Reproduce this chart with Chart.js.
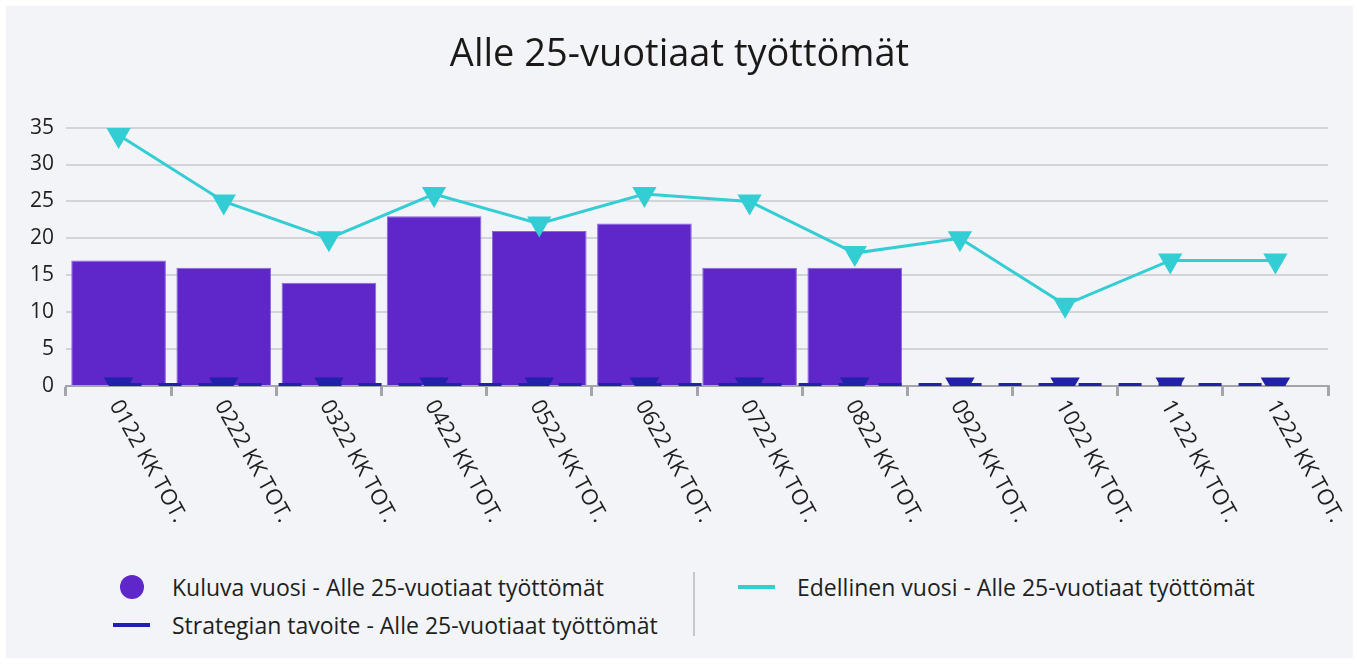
<!DOCTYPE html>
<html lang="fi">
<head>
  <meta charset="UTF-8">
  <title>Alle 25-vuotiaat työttömät</title>
  <script src="https://cdn.jsdelivr.net/npm/chart.js@4.4.1/dist/chart.umd.min.js"></script>
  <style>
    body {
      margin: 0;
      background: #fff;
      font-family: 'Open Sans', sans-serif;
      color: #201f1e;
    }

    .panel {
      position: absolute;
      left: 6px;
      top: 6px;
      width: 1347px;
      height: 652px;
      background: #f3f4f8;
    }

    canvas {
      position: absolute;
      left: 0;
      top: 0;
    }

    .legend-item {
      position: absolute;
      font-size: 23px;
      line-height: 28px;
      white-space: nowrap;
    }

    .swatch {
      position: absolute;
    }

    .divider {
      position: absolute;
      left: 687px;
      top: 566px;
      width: 2px;
      height: 64px;
      background: #c8c8cc;
    }
  </style>
</head>
<body>
<div class="panel" id="panel">
  <canvas id="chart" width="1347" height="545"></canvas>
  <div class="divider"></div>
</div>

<script>
  // data
  const categories = ["0122 KK TOT.", "0222 KK TOT.", "0322 KK TOT.", "0422 KK TOT.", "0522 KK TOT.", "0622 KK TOT.",
                      "0722 KK TOT.", "0822 KK TOT.", "0922 KK TOT.", "1022 KK TOT.", "1122 KK TOT.", "1222 KK TOT."];
  const currentYear = [17, 16, 14, 23, 21, 22, 16, 16, null, null, null, null];
  const previousYear = [34, 25, 20, 26, 22, 26, 25, 18, 20, 11, 17, 17];
  const strategyTarget = [0, 0, 0, 0, 0, 0, 0, 0, 0, 0, 0, 0];
  const yMax = 35;
  const yStep = 5;

  const seriesNames = [
    "Kuluva vuosi - Alle 25-vuotiaat työttömät",
    "Edellinen vuosi - Alle 25-vuotiaat työttömät",
    "Strategian tavoite - Alle 25-vuotiaat työttömät"
  ];
  const colors = { current: "#5f27c9", previous: "#33cdd4", target: "#2121a9" };

  // x labels run down to the right, which Chart.js can't rotate to by itself
  const slantedLabels = {
    id: 'slantedLabels',
    afterDraw(chart) {
      const xs = chart.scales.x;
      const ctx = chart.ctx;
      ctx.save();
      ctx.font = "22px 'Open Sans'";
      ctx.fillStyle = "#201f1e";
      ctx.textAlign = 'left';
      ctx.textBaseline = 'middle';
      categories.forEach((label, i) => {
        const x = xs.getPixelForValue(i);
        ctx.save();
        ctx.translate(x - 4, xs.top + 16);
        ctx.rotate(61 * Math.PI / 180);
        ctx.fillText(label, 0, 0);
        ctx.restore();
      });
      ctx.restore();
    }
  };

  new Chart(document.getElementById("chart"), {
    type: 'bar',
    data: {
      labels: categories,
      datasets: [
        {
          label: seriesNames[1],
          type: 'line',
          data: previousYear,
          borderColor: colors.previous,
          backgroundColor: colors.previous,
          borderWidth: 3,
          pointStyle: 'triangle',
          rotation: 180,
          pointRadius: 11,
          pointHoverRadius: 11,
          tension: 0,
          order: 1
        },
        {
          label: seriesNames[2],
          type: 'line',
          data: strategyTarget,
          borderColor: colors.target,
          backgroundColor: colors.target,
          borderWidth: 6,
          borderDash: [23, 17],
          pointStyle: 'triangle',
          rotation: 180,
          pointRadius: 11,
          pointHoverRadius: 11,
          clip: { left: 30, right: 30, top: 0, bottom: 0 },
          order: 2
        },
        {
          label: seriesNames[0],
          data: currentYear,
          backgroundColor: colors.current,
          borderColor: "#8a66d8",
          borderWidth: 1,
          barPercentage: 0.9,
          categoryPercentage: 1.0,
          order: 3
        }
      ]
    },
    options: {
      responsive: false,
      devicePixelRatio: 1,
      animation: false,
      layout: { padding: { left: 25, right: 25, top: 0, bottom: 0 } },
      plugins: {
        legend: { display: false },
        tooltip: { enabled: false },
        title: {
          display: true,
          text: "Alle 25-vuotiaat työttömät",
          color: "#1a1918",
          font: { family: "'Open Sans'", size: 38, weight: 'normal', lineHeight: 1.2 },
          padding: { top: 26, bottom: 50 }
        }
      },
      scales: {
        x: {
          afterFit: (scale) => { scale.height = 165; },
          ticks: { display: false },
          grid: {
            offset: true,
            drawOnChartArea: false,
            drawTicks: true,
            tickLength: 10,
            color: "#a3a5ab",
            lineWidth: 3
          },
          border: { display: true, color: "#a3a5ab", width: 2 }
        },
        y: {
          min: 0,
          max: yMax,
          afterFit: (scale) => { scale.width = 35; },
          ticks: {
            stepSize: yStep,
            padding: 12,
            color: "#201f1e",
            font: { family: "'Open Sans'", size: 21 }
          },
          grid: { color: "#d3d4da", lineWidth: 2, drawTicks: false },
          border: { display: false }
        }
      }
    },
    plugins: [slantedLabels]
  });

  // legend as html, laid out in two columns like the original
  const panel = document.getElementById("panel");
  const legendItems = [
    { name: seriesNames[0], color: colors.current, kind: 'dot', x: 166, y: 567, sx: 114, sy: 569 },
    { name: seriesNames[2], color: colors.target, kind: 'line', x: 166, y: 605, sx: 107, sy: 607 },
    { name: seriesNames[1], color: colors.previous, kind: 'line', x: 791, y: 567, sx: 732, sy: 569 }
  ];
  legendItems.forEach(item => {
    const sw = document.createElement('div');
    sw.className = 'swatch';
    if (item.kind === 'dot') {
      Object.assign(sw.style, { left: item.sx + 'px', top: item.sy + 'px', width: '24px', height: '24px',
        borderRadius: '50%', background: item.color });
    } else {
      Object.assign(sw.style, { left: item.sx + 'px', top: (item.sy + 10) + 'px', width: '37px', height: '4px',
        background: item.color });
    }
    panel.appendChild(sw);
    const txt = document.createElement('div');
    txt.className = 'legend-item';
    txt.style.left = item.x + 'px';
    txt.style.top = item.y + 'px';
    txt.textContent = item.name;
    panel.appendChild(txt);
  });
</script>

</body>
</html>
